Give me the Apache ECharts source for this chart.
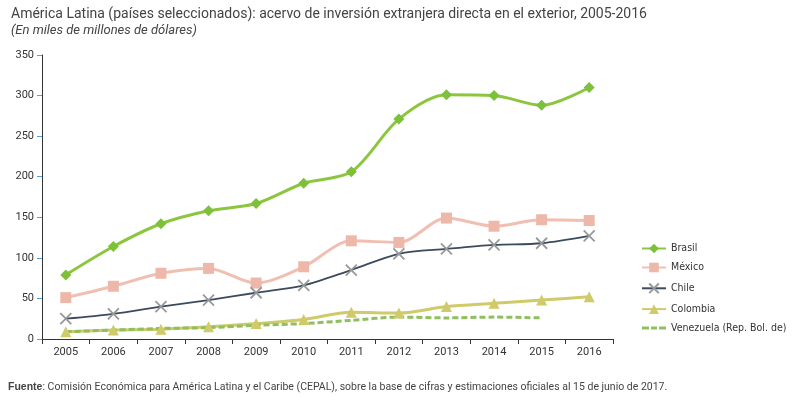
<!DOCTYPE html><html><head><meta charset="utf-8"><script src="https://cdn.jsdelivr.net/npm/echarts@6/dist/echarts.min.js"></script></head><body style="margin:0;background:#fff"><div id="c" style="width:794px;height:404px"></div><script>
const years=['2005','2006','2007','2008','2009','2010','2011','2012','2013','2014','2015','2016'];
const brasil=[79,114,142,158,167,192,206,271,301,300,288,310];
const mexico=[51,65,81,87,69,89,121,119,149,139,147,146];
const chile=[25,31,40,48,57,66,85,105,111,116,118,127];
const colombia=[9,11,12,15,19,24,33,32,40,44,48,52];
const venezuela=[9,11,13,14,17,19,23,27,26,27,26,null];
const f='Roboto, Liberation Sans, sans-serif';
const ch=echarts.init(document.getElementById('c'));
ch.setOption({animation:false,textStyle:{fontFamily:f},
title:{text:'América Latina (países seleccionados): acervo de inversión extranjera directa en el exterior, 2005-2016',subtext:'(En miles de millones de dólares)',left:6,top:2,itemGap:3,textStyle:{fontSize:14,fontWeight:'normal',color:'#444'},subtextStyle:{fontSize:13,fontStyle:'italic',color:'#444'}},
graphic:[{type:'text',left:8,top:382,style:{text:'{b|Fuente}: Comisión Económica para América Latina y el Caribe (CEPAL), sobre la base de cifras y estimaciones oficiales al 15 de junio de 2017.',fontSize:10.5,fill:'#444',fontFamily:f,rich:{b:{fontWeight:'bold',fontSize:10.5,fill:'#444'}}}}],
grid:{left:42,right:181,top:55,bottom:65},
legend:{orient:'vertical',left:636,top:238,itemGap:8,itemWidth:24,itemHeight:12,textStyle:{fontSize:10.5,color:'#333',fontFamily:'"Liberation Sans Narrow", "DejaVu Sans Condensed", sans-serif'},data:['Brasil','México','Chile','Colombia',{name:'Venezuela (Rep. Bol. de)',icon:'path://M0 5H7V8H0ZM9 5H15V8H9ZM17 5H24V8H17Z'}]},
xAxis:{type:'category',data:years,axisLine:{lineStyle:{color:'#333'}},axisTick:{show:true,lineStyle:{color:'#333'}},axisLabel:{color:'#333',fontSize:11}},
yAxis:{type:'value',min:0,max:350,interval:50,axisLine:{show:true,lineStyle:{color:'#333'}},axisTick:{show:true,lineStyle:{color:'#4aa3df'}},splitLine:{show:false},axisLabel:{color:'#333',fontSize:11}},
series:[
{name:'Brasil',type:'line',smooth:0.3,data:brasil,symbol:'diamond',symbolSize:11,lineStyle:{width:3,color:'#8cc63f'},itemStyle:{color:'#7dc03a'}},
{name:'México',type:'line',smooth:0.3,data:mexico,symbol:'rect',symbolSize:11,lineStyle:{width:3,color:'#f1bfb2'},itemStyle:{color:'#edb8a9'}},
{name:'Chile',type:'line',smooth:0.3,data:chile,symbol:'path://M0 0L10 10M10 0L0 10',symbolSize:11,lineStyle:{width:1.8,color:'#3c4a5e'},itemStyle:{color:'none',borderColor:'#999',borderWidth:1.8}},
{name:'Colombia',type:'line',smooth:0.3,data:colombia,symbol:'triangle',symbolSize:11,lineStyle:{width:3,color:'#cfca6a'},itemStyle:{color:'#cfca6a'}},
{name:'Venezuela (Rep. Bol. de)',type:'line',smooth:0.3,data:venezuela,symbol:'none',lineStyle:{width:3,type:[6,3],color:'#8fbf5f'},itemStyle:{color:'#8fbf5f'}}
]});
</script></body></html>
